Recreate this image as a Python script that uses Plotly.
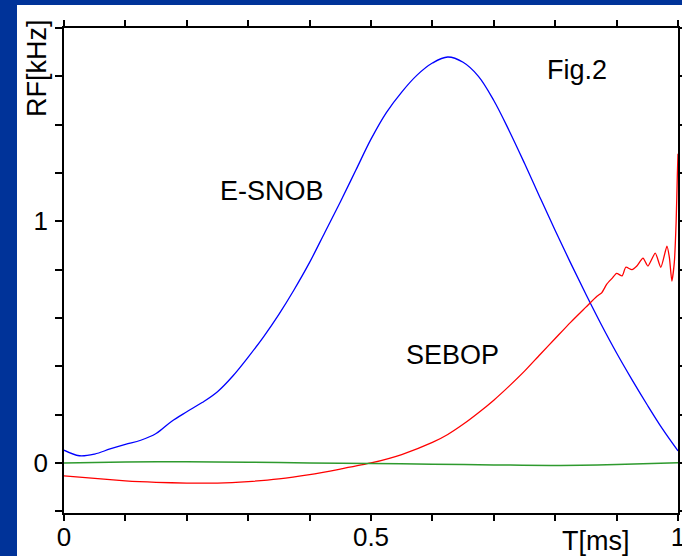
import plotly.graph_objects as go

# Time axis (ms) and RF amplitude (kHz) for the two shaped pulses
esnob_t = [0, 0.025, 0.05, 0.075, 0.1, 0.125, 0.15, 0.175, 0.2, 0.225, 0.25,
           0.275, 0.3, 0.325, 0.35, 0.375, 0.4, 0.425, 0.45, 0.475, 0.5, 0.525,
           0.55, 0.575, 0.6, 0.625, 0.65, 0.675, 0.7, 0.725, 0.75, 0.775, 0.8,
           0.825, 0.85, 0.875, 0.9, 0.925, 0.95, 0.975, 1.0]
esnob_rf = [0.053, 0.030, 0.037, 0.058, 0.077, 0.094, 0.122, 0.172, 0.212, 0.25,
            0.295, 0.36, 0.438, 0.522, 0.615, 0.718, 0.83, 0.955, 1.08, 1.21,
            1.34, 1.45, 1.535, 1.605, 1.655, 1.68, 1.658, 1.60, 1.50, 1.375, 1.24,
            1.10, 0.962, 0.828, 0.698, 0.573, 0.455, 0.345, 0.24, 0.14, 0.05]

sebop_t = [0, 0.05, 0.1, 0.15, 0.2, 0.25, 0.3, 0.35, 0.4, 0.45, 0.5, 0.55, 0.6,
           0.625, 0.65, 0.675, 0.7, 0.725, 0.75, 0.775, 0.8, 0.825, 0.85, 0.868,
           0.876, 0.884, 0.893, 0.9, 0.909, 0.915, 0.925, 0.933, 0.943, 0.951,
           0.963, 0.972, 0.982, 0.986, 0.99, 0.994, 0.997, 0.999, 1.0]
sebop_rf = [-0.053, -0.064, -0.074, -0.080, -0.083, -0.083, -0.077, -0.066,
            -0.048, -0.025, 0.0, 0.035, 0.085, 0.118, 0.16, 0.208, 0.26, 0.318,
            0.38, 0.448, 0.515, 0.582, 0.645, 0.69, 0.705, 0.74, 0.765, 0.785,
            0.774, 0.81, 0.80, 0.815, 0.848, 0.815, 0.868, 0.81, 0.897, 0.85,
            0.753, 0.83, 1.0, 1.2, 1.28]

# Third (near-zero) channel
zero_t = [0, 0.1, 0.2, 0.3, 0.4, 0.5, 0.6, 0.7, 0.8, 0.9, 1.0]
zero_rf = [0.0, 0.004, 0.005, 0.003, 0.0, -0.002, -0.005, -0.008, -0.01, -0.006, 0.001]

x_ticks = [round(0.1 * i, 1) for i in range(11)]
x_labels = ["0", "", "", "", "", "0.5", "", "", "", "", "1"]
y_ticks = [round(-0.2 + 0.2 * i, 1) for i in range(11)]
y_labels = ["", "0", "", "", "", "", "1", "", "", "", ""]

FONT = "Arial, Liberation Sans, sans-serif"
SLIDE_BLUE = "#003399"

fig = go.Figure()
fig.add_trace(go.Scatter(x=esnob_t, y=esnob_rf, mode="lines",
                         line=dict(color="#0000ff", width=1.3, shape="spline", smoothing=1.0)))
fig.add_trace(go.Scatter(x=sebop_t, y=sebop_rf, mode="lines",
                         line=dict(color="#ff0000", width=1.3, shape="spline", smoothing=0.6)))
fig.add_trace(go.Scatter(x=zero_t, y=zero_rf, mode="lines",
                         line=dict(color="#2e9a2e", width=1.5, shape="spline")))

axis_common = dict(showline=True, linecolor="black", linewidth=1.5, mirror="ticks",
                   ticks="outside", tickwidth=1.5, tickcolor="black",
                   showgrid=False, zeroline=False, automargin=False,
                   ticklabeloverflow="allow",
                   tickfont=dict(family=FONT, size=26, color="black"))

fig.update_xaxes(range=[0, 1], tickmode="array", tickvals=x_ticks, ticktext=x_labels,
                 ticklen=6, ticklabelstandoff=-6, **axis_common)
fig.update_yaxes(range=[-0.207, 1.8], tickmode="array", tickvals=y_ticks, ticktext=y_labels,
                 ticklen=7, ticklabelstandoff=2, **axis_common)

# White slide panel behind the chart
fig.add_shape(type="rect", xref="paper", yref="paper",
              x0=(17 - 64) / 614, x1=2, y0=-1, y1=(513 - 5) / 485,
              fillcolor="white", line=dict(width=0), layer="below")

text_font = dict(family=FONT, size=27, color="black")
fig.add_annotation(x=0.339, y=1.125, text="E-SNOB", showarrow=False, font=text_font)
fig.add_annotation(x=0.632, y=0.447, text="SEBOP", showarrow=False, font=text_font)
fig.add_annotation(x=0.835, y=1.625, text="Fig.2", showarrow=False, font=text_font)
fig.add_annotation(xref="paper", yref="paper", x=0.866, y=-0.0577, text="T[ms]",
                   xanchor="center", yanchor="middle", showarrow=False, font=text_font)
fig.add_annotation(xref="paper", yref="paper", x=-0.044, y=0.9175, text="RF[kHz]",
                   xanchor="center", yanchor="middle", textangle=-90,
                   showarrow=False, font=text_font)

fig.update_layout(width=682, height=556, showlegend=False,
                  margin=dict(l=64, r=4, t=28, b=43, autoexpand=False),
                  paper_bgcolor=SLIDE_BLUE, plot_bgcolor="white")

fig.write_html("out.html")
